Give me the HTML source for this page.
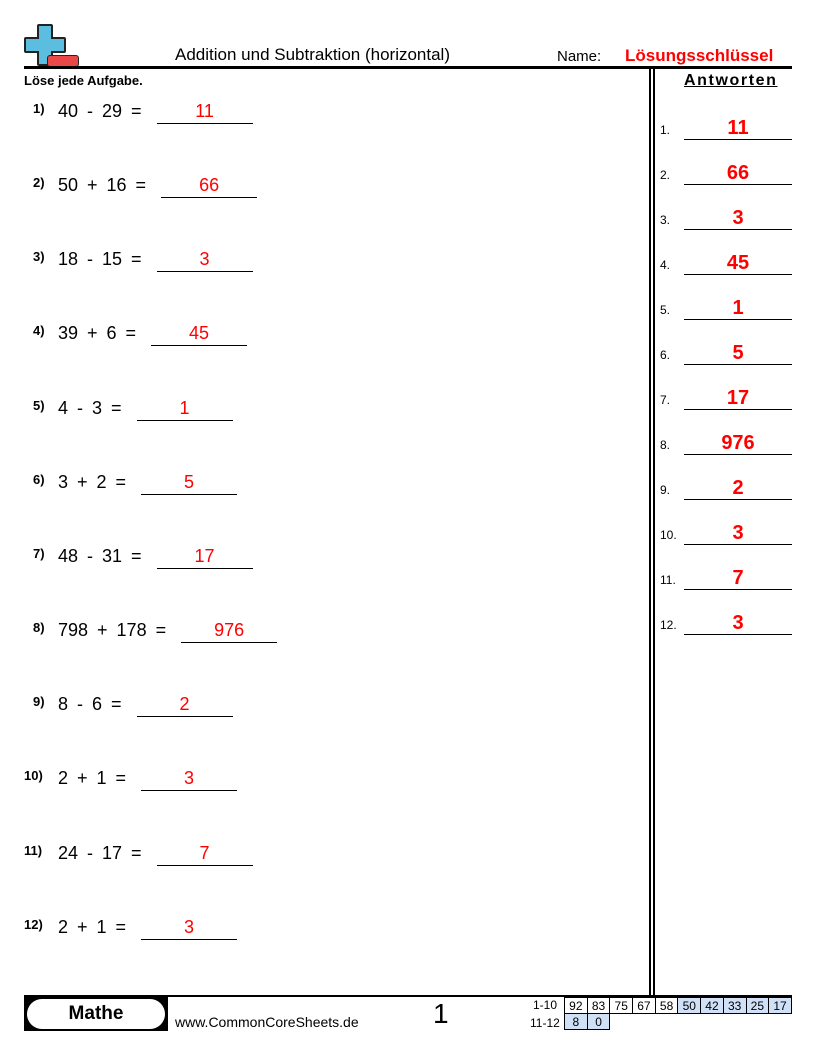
<!DOCTYPE html>
<html><head><meta charset="utf-8"><style>
body{margin:0;width:816px;height:1056px;position:relative;background:#fff;font-family:"Liberation Sans",sans-serif;color:#000;overflow:hidden}
.a{position:absolute}
.p{position:absolute;left:24px;font-size:18px;white-space:nowrap;word-spacing:4px}
.p b{font-size:13px;display:inline-block;width:16px;text-align:left;vertical-align:4px}
.ln{display:inline-block;width:96px;border-bottom:1px solid #000;text-align:center;color:#f00;margin-left:6px;line-height:20px;padding-bottom:2px}
.k{position:absolute;left:660px;width:132px;font-size:12px}
.k span{position:absolute;left:24px;width:108px;border-bottom:1px solid #000;text-align:center;color:#f00;font-weight:bold;font-size:20px;bottom:-3px;line-height:22px}
td{border:1px solid #000;width:21.7px;height:15px;text-align:center;font-size:12px;padding:0}
.bl{background:#cfe0f7}
</style></head><body>
<div class="a" style="left:37px;top:24px;width:12px;height:38px;background:#5bbde0;border:2px solid #222;border-radius:2px"></div>
<div class="a" style="left:24px;top:37px;width:38px;height:12px;background:#5bbde0;border:2px solid #222;border-radius:2px"></div>
<div class="a" style="left:39px;top:26px;width:12px;height:38px;background:#5bbde0"></div>
<div class="a" style="left:47px;top:55px;width:30px;height:10px;background:#e94848;border:1px solid #222;border-radius:3px"></div>
<div class="a" style="left:175px;top:45px;font-size:17px">Addition und Subtraktion (horizontal)</div>
<div class="a" style="left:557px;top:48px;font-size:15px">Name:</div>
<div class="a" style="left:625px;top:46px;font-size:17px;color:#f00;font-weight:bold">Lösungsschlüssel</div>
<div class="a" style="left:24px;top:66px;width:768px;height:3px;background:#000"></div>
<div class="a" style="left:649px;top:68px;width:1.5px;height:928px;background:#000"></div>
<div class="a" style="left:653px;top:68px;width:1.5px;height:928px;background:#000"></div>
<div class="a" style="left:24px;top:73px;font-size:13px;font-weight:bold">Löse jede Aufgabe.</div>
<div class="a" style="left:684px;top:72px;font-size:16px;font-weight:bold;text-decoration:underline;letter-spacing:1.6px">Antworten</div>

<div class="p" style="top:101px;left:33px"><b>1)</b>&nbsp;40 - 29 = <span class="ln">11</span></div>
<div class="p" style="top:175px;left:33px"><b>2)</b>&nbsp;50 + 16 = <span class="ln">66</span></div>
<div class="p" style="top:249px;left:33px"><b>3)</b>&nbsp;18 - 15 = <span class="ln">3</span></div>
<div class="p" style="top:323px;left:33px"><b>4)</b>&nbsp;39 + 6 = <span class="ln">45</span></div>
<div class="p" style="top:398px;left:33px"><b>5)</b>&nbsp;4 - 3 = <span class="ln">1</span></div>
<div class="p" style="top:472px;left:33px"><b>6)</b>&nbsp;3 + 2 = <span class="ln">5</span></div>
<div class="p" style="top:546px;left:33px"><b>7)</b>&nbsp;48 - 31 = <span class="ln">17</span></div>
<div class="p" style="top:620px;left:33px"><b>8)</b>&nbsp;798 + 178 = <span class="ln">976</span></div>
<div class="p" style="top:694px;left:33px"><b>9)</b>&nbsp;8 - 6 = <span class="ln">2</span></div>
<div class="p" style="top:768px;left:24px"><b style="width:34px">10)</b>2 + 1 = <span class="ln">3</span></div>
<div class="p" style="top:843px;left:24px"><b style="width:34px">11)</b>24 - 17 = <span class="ln">7</span></div>
<div class="p" style="top:917px;left:24px"><b style="width:34px">12)</b>2 + 1 = <span class="ln">3</span></div>

<div class="k" style="top:123px">1.<span>11</span></div>
<div class="k" style="top:168px">2.<span>66</span></div>
<div class="k" style="top:213px">3.<span>3</span></div>
<div class="k" style="top:258px">4.<span>45</span></div>
<div class="k" style="top:303px">5.<span>1</span></div>
<div class="k" style="top:348px">6.<span>5</span></div>
<div class="k" style="top:393px">7.<span>17</span></div>
<div class="k" style="top:438px">8.<span>976</span></div>
<div class="k" style="top:483px">9.<span>2</span></div>
<div class="k" style="top:528px">10.<span>3</span></div>
<div class="k" style="top:573px">11.<span>7</span></div>
<div class="k" style="top:618px">12.<span>3</span></div>

<div class="a" style="left:24px;top:995px;width:768px;height:2px;background:#000"></div>
<div class="a" style="left:24px;top:997px;width:144px;height:34px;background:#000"></div>
<div class="a" style="left:27px;top:999px;width:138px;height:30px;background:#fff;border-radius:15px;text-align:center;font-weight:bold;font-size:19px;line-height:30px">Mathe</div>
<div class="a" style="left:175px;top:1014px;font-size:14px">www.CommonCoreSheets.de</div>
<div class="a" style="left:433px;top:998px;font-size:28px">1</div>
<div class="a" style="left:533px;top:998px;font-size:12px">1-10</div>
<div class="a" style="left:530px;top:1016px;font-size:12px">11-12</div>
<table class="a" style="left:564px;top:997px;border-collapse:collapse;table-layout:fixed">
<tr><td>92</td><td>83</td><td>75</td><td>67</td><td>58</td><td class="bl">50</td><td class="bl">42</td><td class="bl">33</td><td class="bl">25</td><td class="bl">17</td></tr>
<tr><td class="bl">8</td><td class="bl">0</td></tr>
</table>
</body></html>
